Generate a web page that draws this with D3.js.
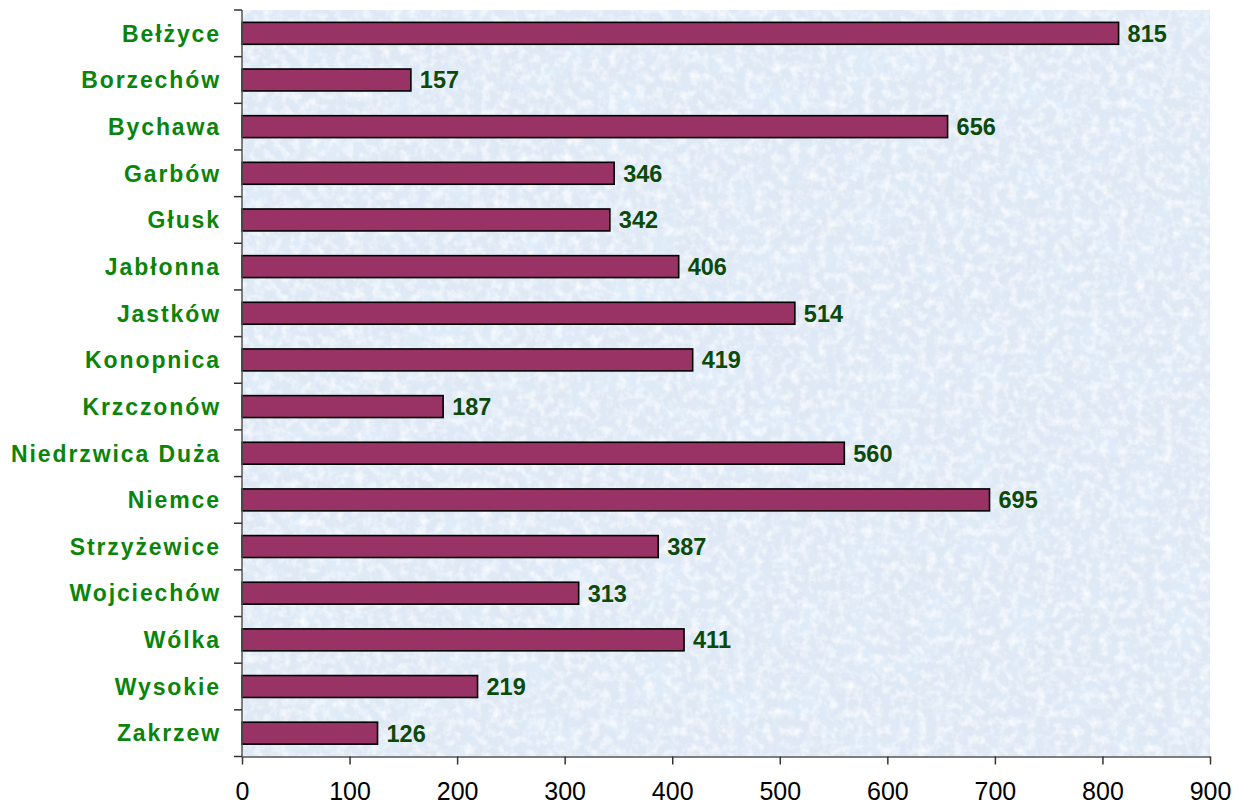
<!DOCTYPE html>
<html lang="pl">
<head>
    <meta charset="UTF-8">
    <title>Gminy - wykres</title>
    <script src="https://d3js.org/d3.v7.min.js"></script>
    <style>
        body { margin: 0; background: #fff; }
    </style>
</head>
<body>
<svg id="chart" width="1243" height="809"></svg>

<script>
    const categories = ["Bełżyce", "Borzechów", "Bychawa", "Garbów", "Głusk", "Jabłonna",
        "Jastków", "Konopnica", "Krzczonów", "Niedrzwica Duża", "Niemce", "Strzyżewice",
        "Wojciechów", "Wólka", "Wysokie", "Zakrzew"];
    const values = [815, 157, 656, 346, 342, 406, 514, 419, 187, 560, 695, 387, 313, 411, 219, 126];
    const xTicks = [0, 100, 200, 300, 400, 500, 600, 700, 800, 900];

    const plotLeft = 242, plotRight = 1210, plotTop = 10, plotBottom = 756.5;
    const font = "Arial, 'Liberation Sans', sans-serif";

    const svg = d3.select("#chart");

    // textured light-blue plot background (decoration only)
    const defs = svg.append("defs");
    function noise(id, freq, seed, rgb, k, off) {
        const f = defs.append("filter").attr("id", id)
            .attr("x", 0).attr("y", 0).attr("width", 1).attr("height", 1);
        f.append("feTurbulence").attr("type", "fractalNoise")
            .attr("baseFrequency", freq).attr("numOctaves", 4).attr("seed", seed);
        f.append("feColorMatrix").attr("type", "matrix")
            .attr("values", "0 0 0 0 " + rgb[0] + "  0 0 0 0 " + rgb[1] + "  0 0 0 0 " + rgb[2] +
                "  " + k + " 0 0 0 " + off);
    }
    noise("texW", 0.11, 3, [0.96, 0.975, 1.0], 2.0, -0.85);
    noise("texB", 0.025, 11, [0.74, 0.84, 0.95], 2.6, -1.25);

    const bg = svg.append("g");
    bg.append("rect")
        .attr("x", plotLeft).attr("y", plotTop)
        .attr("width", plotRight - plotLeft).attr("height", plotBottom - plotTop)
        .attr("fill", "#dfe9f5");
    ["texB", "texW"].forEach(function (id) {
        bg.append("rect")
            .attr("x", plotLeft).attr("y", plotTop)
            .attr("width", plotRight - plotLeft).attr("height", plotBottom - plotTop)
            .attr("filter", "url(#" + id + ")");
    });

    const x = d3.scaleLinear().domain([0, 900]).range([plotLeft, plotRight]);
    const y = d3.scaleBand().domain(categories).range([plotTop, plotBottom]).paddingInner(0.53).paddingOuter(0.265);

    // bars
    svg.append("g")
        .selectAll("rect")
        .data(values).enter()
        .append("rect")
        .attr("x", x(0))
        .attr("y", function (d, i) { return y(categories[i]); })
        .attr("width", function (d) { return x(d) - x(0); })
        .attr("height", y.bandwidth())
        .attr("fill", "#993366")
        .attr("stroke", "#000")
        .attr("stroke-width", 1.6);

    // value labels
    svg.append("g")
        .selectAll("text")
        .data(values).enter()
        .append("text")
        .attr("x", function (d) { return x(d) + 9; })
        .attr("y", function (d, i) { return y(categories[i]) + y.bandwidth() / 2; })
        .attr("dy", "0.36em")
        .attr("font-family", font)
        .attr("font-size", 23.5)
        .attr("font-weight", "bold")
        .attr("fill", "#0b4a0b")
        .text(function (d) { return d; });

    // x axis
    const xAxis = svg.append("g")
        .attr("transform", "translate(0," + plotBottom + ")")
        .call(d3.axisBottom(x).tickValues(xTicks).tickSizeInner(8).tickSizeOuter(0).tickPadding(18));
    xAxis.select(".domain").attr("stroke", "#555").attr("stroke-width", 1.5);
    xAxis.selectAll(".tick line").attr("stroke", "#333").attr("stroke-width", 1.5);
    xAxis.selectAll(".tick text")
        .attr("font-family", font).attr("font-size", 25).attr("fill", "#000");

    // y axis: ticks between categories
    const yAxis = svg.append("g").attr("transform", "translate(" + plotLeft + ",0)");
    const step = (plotBottom - plotTop) / categories.length;
    yAxis.append("line")
        .attr("x1", 0).attr("x2", 0).attr("y1", plotTop).attr("y2", plotBottom)
        .attr("stroke", "#555").attr("stroke-width", 1.5);
    yAxis.selectAll(".tk")
        .data(d3.range(categories.length + 1)).enter()
        .append("line")
        .attr("x1", -8).attr("x2", 0)
        .attr("y1", function (i) { return plotTop + i * step; })
        .attr("y2", function (i) { return plotTop + i * step; })
        .attr("stroke", "#333").attr("stroke-width", 1.5);
    yAxis.selectAll("text")
        .data(categories).enter()
        .append("text")
        .attr("x", -21)
        .attr("y", function (d) { return y(d) + y.bandwidth() / 2; })
        .attr("dy", "0.36em")
        .attr("text-anchor", "end")
        .attr("font-family", font)
        .attr("font-size", 23)
        .attr("font-weight", "bold")
        .attr("letter-spacing", 1.9)
        .attr("fill", "#0a840a")
        .text(function (d) { return d; });
</script>
</body>
</html>
